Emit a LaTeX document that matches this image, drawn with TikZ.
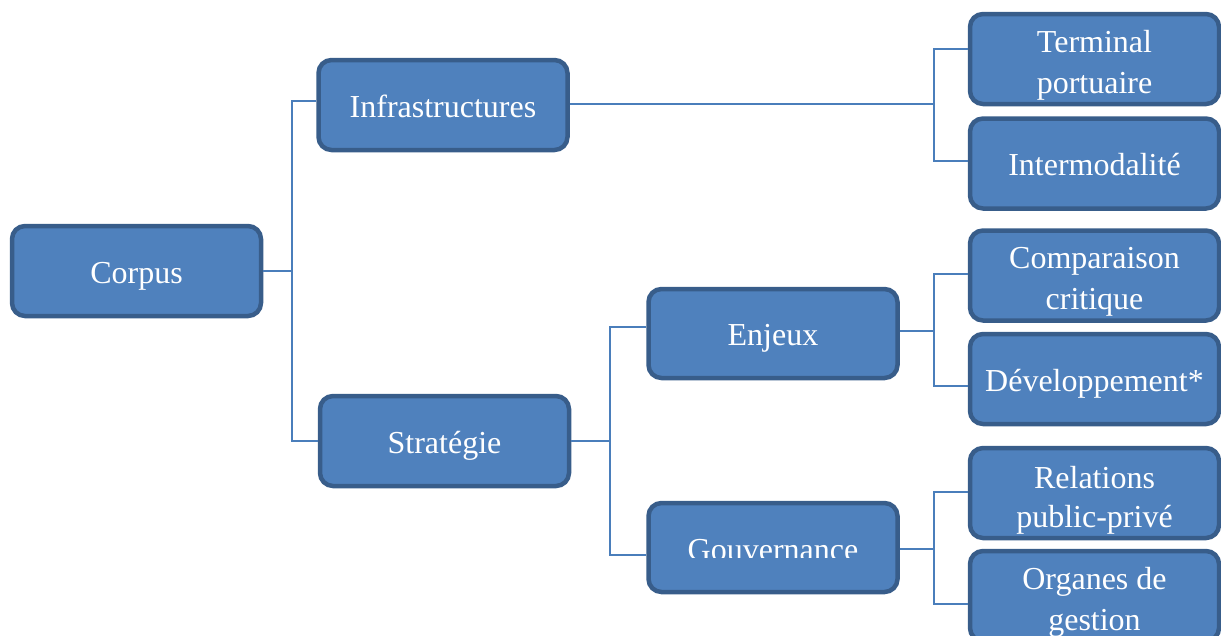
\documentclass[tikz,border=0pt]{standalone}
\usepackage{fontspec}
\setmainfont{Liberation Serif}
\definecolor{boxfill}{HTML}{4F81BD}
\definecolor{boxline}{HTML}{385D8A}
\definecolor{connline}{HTML}{4A7EBB}
\begin{document}
\begin{tikzpicture}[x=1pt,y=-1pt,
  box/.style={draw=boxline, fill=boxfill, line width=4.5pt, rounded corners=13pt,
    minimum width=249pt, minimum height=90pt, inner sep=0pt, text=white,
    font=\fontsize{32}{41}\selectfont},
  one/.style={text height=26pt, text depth=2pt},
  two/.style={align=center},
  conn/.style={draw=connline, line width=1.5pt}]
\useasboundingbox (0,0) rectangle (1221,635);
\newcommand\tstrut{\rule{0pt}{34pt}}
% boxes
\node[box,one] (corpus) at (136.5,271) {Corpus};
\node[box,one] (infra) at (443,105) {Infrastructures};
\node[box,one] (strat) at (444.5,441) {Stratégie};
\node[box,one,minimum height=89pt] (enjeux) at (773,333.5) {Enjeux};
\node[box,minimum height=89pt] (gouv) at (773,547.5) {};
\begin{scope}
  \clip (640,480) rectangle (905,557);
  \node[one,text=white,font=\fontsize{32}{41}\selectfont,inner sep=0pt,minimum height=89pt] (gouvtext) at (773,548) {Gouvernance};
\end{scope}
\node[box,two] (term) at (1094.5,59) {\tstrut Terminal\\portuaire};
\node[box,one] (inter) at (1094.5,163.5) {Intermodalité};
\node[box,two] (comp) at (1094.5,275.5) {\tstrut Comparaison\\critique};
\node[box,one] (dev) at (1094.5,379) {Développement*};
\node[box,two] (rel) at (1094.5,493) {\rule{0pt}{36pt}Relations\\[-2pt]public-privé};
\node[box,two] (org) at (1094.5,596) {\rule{0pt}{35pt}Organes de\\gestion};
% junctions
\coordinate (j1) at (292,271);
\coordinate (j2) at (934,104);
\coordinate (j3) at (610,441);
\coordinate (j4) at (934,331);
\coordinate (j5) at (934,549);
% connectors
\draw[conn] (corpus.east) -- (j1);
\draw[conn] ([yshift=4pt]infra.west) -| (j1) |- (strat.west);
\draw[conn] ([yshift=1pt]infra.east) -- (j2);
\draw[conn] ([yshift=10pt]term.west) -| (j2) |- ([yshift=2.5pt]inter.west);
\draw[conn] (strat.east) -- (j3);
\draw[conn] ([yshift=6.5pt]enjeux.west) -| (j3) |- ([yshift=-7.5pt]gouv.west);
\draw[conn] ([yshift=2.5pt]enjeux.east) -- (j4);
\draw[conn] ([yshift=1.5pt]comp.west) -| (j4) |- ([yshift=-7pt]dev.west);
\draw[conn] ([yshift=-1.5pt]gouv.east) -- (j5);
\draw[conn] ([yshift=1pt]rel.west) -| (j5) |- ([yshift=-8pt]org.west);
\end{tikzpicture}
\end{document}
